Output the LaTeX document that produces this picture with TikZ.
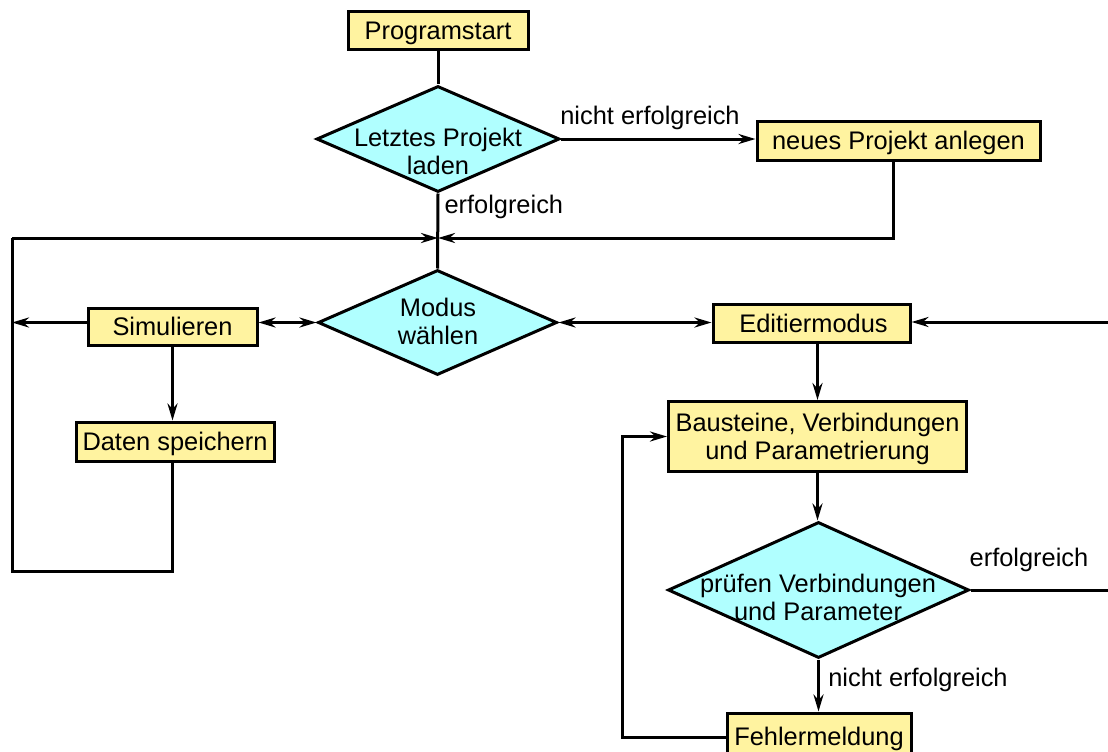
\documentclass[tikz,border=0pt]{standalone}
\usepackage{fontspec}
\setmainfont{Liberation Sans}
\usetikzlibrary{shapes.geometric,arrows.meta}
\definecolor{boxfill}{RGB}{255,243,160}
\definecolor{decfill}{RGB}{176,255,255}
\begin{document}
\begin{tikzpicture}[x=1pt,y=-1pt,line width=3pt,
  font=\fontsize{25.4}{28}\selectfont,
  proc/.style={draw,fill=boxfill,line width=3pt,inner sep=0pt,align=center,text depth=0pt},
  dec/.style={diamond,draw,fill=decfill,line width=3pt,inner sep=0pt},
  dectext/.style={align=center,inner sep=0pt},
  lbl/.style={inner sep=0pt},
  flow/.style={-{Stealth[length=17pt,width=10pt]}},
  both/.style={{Stealth[length=17pt,width=10pt]}-{Stealth[length=17pt,width=10pt]}}]
\useasboundingbox (0,0) rectangle (1108,752);

% process boxes and decisions
\node[proc,minimum width=180,minimum height=38] (start) at (438,31) {Programstart};
\node[dec,minimum width=243,minimum height=106] (load) at (438,139) {};
\node[dectext] (loadt) at (438,151) {Letztes Projekt\\laden};
\node[proc,minimum width=283,minimum height=39] (new) at (898.5,140.5) {neues Projekt anlegen};
\node[dec,minimum width=239,minimum height=105] (mode) at (437.5,322.5) {};
\node[dectext] (modet) at (438,321) {Modus\\wählen};
\node[proc,minimum width=169,minimum height=37] (sim) at (172.5,326.5) {Simulieren};
\node[proc,minimum width=198,minimum height=39] (save) at (175,441.5) {Daten speichern};
\node[proc,minimum width=197,minimum height=38] (edit) at (811.5,323) {\hspace*{4pt}Editiermodus};
\node[proc,minimum width=298,minimum height=70] (build) at (817.5,436.5) {Bausteine, Verbindungen\\und Parametrierung};
\node[dec,minimum width=301,minimum height=136] (check) at (818.5,590) {};
\node[dectext] (checkt) at (818,597) {prüfen Verbindungen\\und Parameter};
\node[proc,minimum width=184,minimum height=46] (err) at (819,736) {Fehlermeldung};

% junctions and free ends
\coordinate (join) at (438,238);
\coordinate (lt) at (12,238);
\coordinate (lb) at (12,571);
\coordinate (nr) at (893,238);
\coordinate (re1) at (1108,322);
\coordinate (re2) at (1108,590);
\coordinate (fb) at (622,737);

% connectors
\draw (start) -- (load);
\draw[flow] (load.east) -- (new.west |- load.east);
\draw (load.south) -- (mode.north);
\draw[flow] (lt) -- (join);
\draw[flow] (new.south -| nr) -- (nr) -- (join);
\draw (sim.south |- save.south) -- (sim.south |- lb) -- (lb) -- (lt);
\draw[flow] (sim.west |- mode) -- (lt |- mode);
\draw[both] (sim.east |- mode) -- (mode.west);
\draw[flow] (sim.south) -- (sim.south |- save.north);
\draw[both] (mode.east) -- (edit.west |- mode.east);
\draw[flow] (re1) -- (edit.east |- re1);
\draw[flow] (edit.south -| build) -- (build.north);
\draw[flow] (build.south) -- (build.south |- check.north);
\draw (check.east) -- (re2 |- check.east);
\draw[flow] (check.south) -- (check.south |- err.north);
\draw[flow] (err.west |- fb) -- (fb) -- (fb |- build.west) -- (build.west);

% branch labels
\node[lbl] (l1) at (650,118) {nicht erfolgreich};
\node[lbl,anchor=west] (l2) at (443,207) {erfolgreich};
\node[lbl] (l3) at (1029,560) {erfolgreich};
\node[lbl] (l4) at (918,680) {nicht erfolgreich};
\end{tikzpicture}
\end{document}
